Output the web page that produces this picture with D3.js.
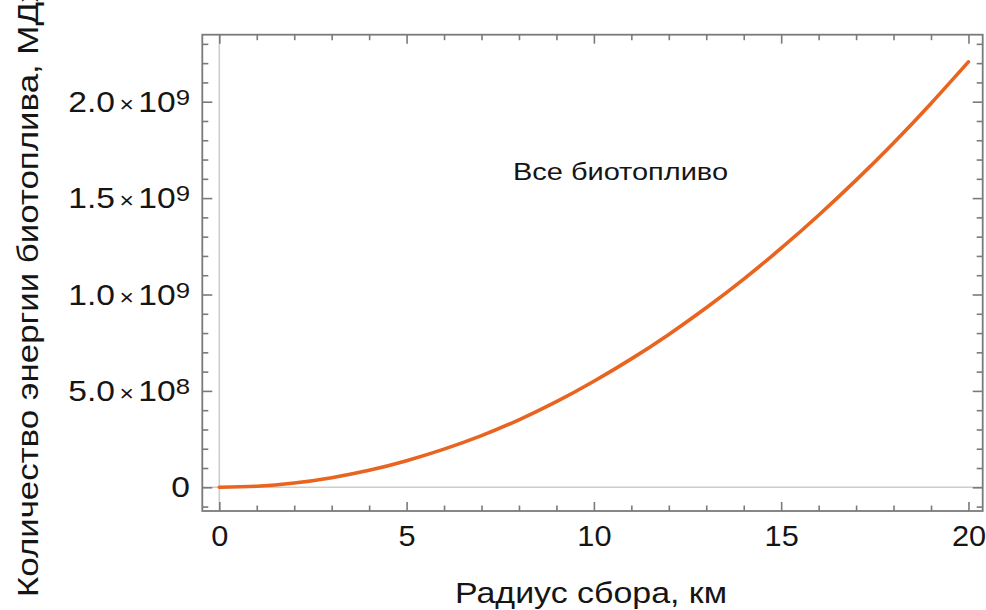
<!DOCTYPE html>
<html><head><meta charset="utf-8">
<script src="https://cdn.jsdelivr.net/npm/d3@7"></script>
<style>
body{margin:0;background:#fff}
svg{display:block}
text{font-family:"Liberation Sans",Arial,sans-serif;fill:#151515}
</style></head><body>
<svg id="c" width="986" height="610"></svg>
<script>
// ---- data ----
const radiusKm = [0,1,2,3,4,5,6,7,8,9,10,11,12,13,14,15,16,17,18,19,20];
const energyMJ = [0,5.5e6,2.2e7,5.0e7,8.8e7,1.38e8,1.98e8,2.68e8,3.50e8,4.44e8,5.50e8,6.66e8,7.93e8,9.31e8,1.080e9,1.240e9,1.411e9,1.593e9,1.786e9,1.991e9,2.207e9];
const xMajorTicks = [0,5,10,15,20];
const xTickLabels = ["0","5","10","15","20"];
const xMinorTicks = [1,2,3,4,6,7,8,9,11,12,13,14,16,17,18,19];
const yMajorTicks = [0,5e8,1e9,1.5e9,2e9];
const yTickMantissa = ["0","5.0","1.0","1.5","2.0"];
const yTickExponent = ["","8","9","9","9"];
const yMinorTicks = [-1e8,1e8,2e8,3e8,4e8,6e8,7e8,8e8,9e8,1.1e9,1.2e9,1.3e9,1.4e9,1.6e9,1.7e9,1.8e9,1.9e9,2.1e9,2.2e9,2.3e9];
const annotationText = "Все биотопливо";
const xTitle = "Радиус сбора, км";
const yTitle = "Количество энергии биотоплива, МДж";

// ---- layout ----
const L = 202.3, R = 982.7, T = 34.7, B = 511;
const SX = 1.12; // horizontal stretch of the glyphs in the reference
const svg = d3.select("#c");
const x = d3.scaleLinear().domain([-0.454, 20.38]).range([L, R]);
const y = d3.scaleLinear().domain([-1.229e8, 2.3475e9]).range([B, T]);

svg.append("defs").append("clipPath").attr("id","clip")
  .append("rect").attr("x",L).attr("y",T).attr("width",R-L).attr("height",B-T);

// axis lines through origin
const plot = svg.append("g").attr("clip-path","url(#clip)");
plot.append("line").attr("x1",x(0)).attr("x2",x(0)).attr("y1",T).attr("y2",B)
  .attr("stroke","#cdcdcd").attr("stroke-width",1.6);
plot.append("line").attr("x1",L).attr("x2",R).attr("y1",y(0)).attr("y2",y(0))
  .attr("stroke","#cdcdcd").attr("stroke-width",1.6);

// curve
const line = d3.line().x((d,i)=>x(radiusKm[i])).y(d=>y(d)).curve(d3.curveNatural);
plot.append("path").datum(energyMJ).attr("d",line)
  .attr("fill","none").attr("stroke","#e8641f").attr("stroke-width",3.6)
  .attr("stroke-linecap","round");

// frame
svg.append("rect").attr("x",L).attr("y",T).attr("width",R-L).attr("height",B-T)
  .attr("fill","none").attr("stroke","#7a7a7a").attr("stroke-width",1.8);

const tickColor = "#7a7a7a";
function styleAxis(g){
  g.select(".domain").remove();
  g.selectAll(".tick line").attr("stroke",tickColor).attr("stroke-width",1.6);
}
// bottom
const gB = svg.append("g").attr("transform",`translate(0,${B})`)
  .call(d3.axisBottom(x).tickValues(xMajorTicks).tickSizeInner(-9).tickSizeOuter(0)
    .tickPadding(14).tickFormat((d,i)=>xTickLabels[i]));
styleAxis(gB);
gB.selectAll(".tick text").attr("font-size",29).attr("fill","#151515")
  .attr("font-family","Liberation Sans, Arial, sans-serif")
  .attr("transform",`scale(1.06,1)`);
svg.append("g").attr("transform",`translate(0,${B})`)
  .call(d3.axisBottom(x).tickValues(xMinorTicks).tickSizeInner(-5.5).tickSizeOuter(0).tickFormat(""))
  .call(styleAxis);
// top
svg.append("g").attr("transform",`translate(0,${T})`)
  .call(d3.axisTop(x).tickValues(xMajorTicks).tickSizeInner(-9).tickSizeOuter(0).tickFormat(""))
  .call(styleAxis);
svg.append("g").attr("transform",`translate(0,${T})`)
  .call(d3.axisTop(x).tickValues(xMinorTicks).tickSizeInner(-5.5).tickSizeOuter(0).tickFormat(""))
  .call(styleAxis);
// left
const gL = svg.append("g").attr("transform",`translate(${L},0)`)
  .call(d3.axisLeft(y).tickValues(yMajorTicks).tickSizeInner(-10).tickSizeOuter(0)
    .tickPadding(11).tickFormat(""));
styleAxis(gL);
gL.selectAll(".tick text").each(function(d,i){
  const t = d3.select(this);
  t.attr("font-size",30).attr("fill","#151515")
   .attr("font-family","Liberation Sans, Arial, sans-serif")
   .attr("transform",`scale(${SX},1)`);
  t.append("tspan").text(yTickMantissa[i]);
  if (yTickExponent[i]) {
    t.append("tspan").attr("dx",4).attr("font-size",22).text("×");
    t.append("tspan").attr("dx",4).text("10");
    t.append("tspan").attr("dy",-7).attr("font-size",23).text(yTickExponent[i]);
  }
});
svg.append("g").attr("transform",`translate(${L},0)`)
  .call(d3.axisLeft(y).tickValues(yMinorTicks).tickSizeInner(-6).tickSizeOuter(0).tickFormat(""))
  .call(styleAxis);
// right
svg.append("g").attr("transform",`translate(${R},0)`)
  .call(d3.axisRight(y).tickValues(yMajorTicks).tickSizeInner(-10).tickSizeOuter(0).tickFormat(""))
  .call(styleAxis);
svg.append("g").attr("transform",`translate(${R},0)`)
  .call(d3.axisRight(y).tickValues(yMinorTicks).tickSizeInner(-6).tickSizeOuter(0).tickFormat(""))
  .call(styleAxis);

// titles
function fit(sel, w){ sel.attr("textLength", w).attr("lengthAdjust","spacingAndGlyphs"); }
const xt = svg.append("text").attr("x",591).attr("y",603).attr("text-anchor","middle")
  .attr("font-size",30).text(xTitle);
fit(xt, 272);
const an = svg.append("text").attr("x",620.5).attr("y",180).attr("text-anchor","middle")
  .attr("font-size",24).text(annotationText);
fit(an, 215);
const yt = svg.append("text").attr("transform","translate(38,597) rotate(-90)")
  .attr("x",0).attr("y",0).attr("text-anchor","start").attr("font-size",30).text(yTitle);
{
  const n = yt.node();
  const full = n.getComputedTextLength();
  const pre = n.getSubStringLength(0, yTitle.length - 1);
  fit(yt, full * 595 / pre);
}
</script>
</body></html>
